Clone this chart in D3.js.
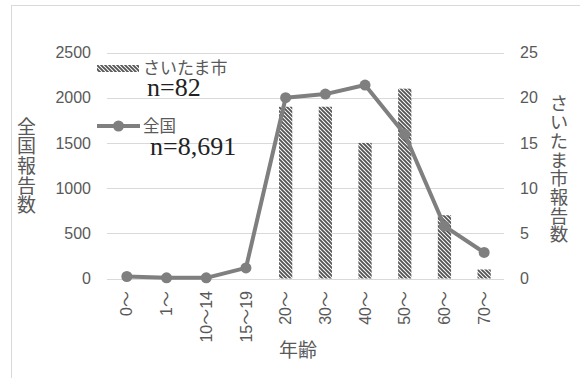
<!DOCTYPE html>
<html>
<head>
<meta charset="utf-8">
<script src="https://cdn.jsdelivr.net/npm/d3@7"></script>
<style>
  html, body { margin: 0; padding: 0; background: #fff; }
  svg { display: block; }
  .vtitle { writing-mode: vertical-rl; text-orientation: upright; }
</style>
</head>
<body>
<svg id="chart" width="580" height="378"></svg>
<script>
// Age groups on the x axis
const categories = ["0～", "1～", "10～14", "15～19", "20～", "30～", "40～", "50～", "60～", "70～"];
// Saitama City reports (bars, right axis)
const saitamaCounts = [0, 0, 0, 0, 19, 19, 15, 21, 7, 1];
// Nationwide reports (line, left axis)
const nationalCounts = [22, 7, 7, 117, 2000, 2040, 2140, 1596, 580, 288];
// Axis ticks
const leftTicks = [0, 500, 1000, 1500, 2000, 2500];
const rightTicks = [0, 5, 10, 15, 20, 25];
// Titles and legend text
const leftTitle = "全国報告数";
const rightTitle = "さいたま市報告数";
const xTitle = "年齢";
const legendBar = "さいたま市";
const legendLine = "全国";
const noteBar = "n=82";
const noteLine = "n=8,691";

const svg = d3.select("#chart");
const sans = "'Liberation Sans', Arial, 'Noto Sans CJK JP', sans-serif";
const cjk = "'Noto Sans CJK JP', sans-serif";
const serif = "'Liberation Serif', 'Times New Roman', serif";
const textColor = "#595959";
const gridColor = "#d9d9d9";
const seriesGray = "#7f7f7f";

// chart frame
svg.append("rect")
  .attr("x", 11.5).attr("y", 5.5)
  .attr("width", 620).attr("height", 420)
  .attr("fill", "#fff").attr("stroke", gridColor).attr("stroke-width", 1);

// diagonal hatch for the bars
const defs = svg.append("defs");
const pat = defs.append("pattern")
  .attr("id", "hatch")
  .attr("patternUnits", "userSpaceOnUse")
  .attr("width", 4).attr("height", 4);
pat.append("rect").attr("width", 4).attr("height", 4).attr("fill", "#fff");
pat.append("path")
  .attr("d", "M-1,-1 L5,5 M-1,3 L1,5 M3,-1 L5,1")
  .attr("stroke", "#555").attr("stroke-width", 1.9);

const x = d3.scaleBand().domain(categories).range([107, 504]).padding(0);
const yL = d3.scaleLinear().domain([0, 2500]).range([278.5, 52.5]);
const yR = d3.scaleLinear().domain([0, 25]).range([278.5, 52.5]);

// horizontal gridlines
svg.append("g").selectAll("line").data(leftTicks).join("line")
  .attr("x1", x.range()[0]).attr("x2", x.range()[1])
  .attr("y1", d => Math.round(yL(d)) + 0.5).attr("y2", d => Math.round(yL(d)) + 0.5)
  .attr("stroke", gridColor).attr("stroke-width", 1);

// left axis labels
svg.append("g").selectAll("text").data(leftTicks).join("text")
  .attr("x", 91).attr("y", d => yL(d)).attr("dy", "0.35em")
  .attr("text-anchor", "end")
  .attr("font-family", sans).attr("font-size", 16).attr("fill", textColor)
  .text(d => d);

// right axis labels
svg.append("g").selectAll("text").data(rightTicks).join("text")
  .attr("x", 520).attr("y", d => yR(d)).attr("dy", "0.35em")
  .attr("text-anchor", "start")
  .attr("font-family", sans).attr("font-size", 16).attr("fill", textColor)
  .text(d => d);

// x axis labels, rotated
svg.append("g").selectAll("text").data(categories).join("text")
  .attr("transform", d => `translate(${x(d) + x.bandwidth() / 2},291) rotate(-90)`)
  .attr("dy", "0.35em")
  .attr("text-anchor", "end")
  .attr("font-family", sans).attr("font-size", 16).attr("fill", textColor)
  .text(d => d);

// bars
const barW = x.bandwidth() / 3;
svg.append("g").selectAll("rect").data(categories).join("rect")
  .attr("x", (d) => x(d) + x.bandwidth() / 2 - barW / 2)
  .attr("width", barW)
  .attr("y", (d, i) => yR(saitamaCounts[i]))
  .attr("height", (d, i) => yR(0) - yR(saitamaCounts[i]))
  .attr("fill", "url(#hatch)");

// line with markers
const pts = categories.map((c, i) => [x(c) + x.bandwidth() / 2, yL(nationalCounts[i])]);
svg.append("path")
  .attr("d", d3.line()(pts))
  .attr("fill", "none").attr("stroke", seriesGray)
  .attr("stroke-width", 4).attr("stroke-linejoin", "round");
svg.append("g").selectAll("circle").data(pts).join("circle")
  .attr("cx", d => d[0]).attr("cy", d => d[1]).attr("r", 5.5)
  .attr("fill", seriesGray);

// vertical axis titles (upright characters, top to bottom)
function verticalTitle(str, cx, cy, size, spacing) {
  svg.append("text")
    .attr("class", "vtitle")
    .attr("x", cx).attr("y", cy)
    .attr("text-anchor", "middle")
    .attr("font-family", cjk).attr("font-size", size)
    .attr("letter-spacing", spacing)
    .attr("fill", textColor)
    .text(str);
}
verticalTitle(leftTitle, 26.5, 166, 19, 0.6);
verticalTitle(rightTitle, 559, 169, 18.5, 0.2);

// x axis title
svg.append("text")
  .attr("x", 298).attr("y", 350).attr("dy", "0.38em")
  .attr("text-anchor", "middle")
  .attr("font-family", cjk).attr("font-size", 19).attr("fill", textColor)
  .text(xTitle);

// legend
svg.append("rect")
  .attr("x", 97).attr("y", 65).attr("width", 42).attr("height", 7)
  .attr("fill", "url(#hatch)");
svg.append("text")
  .attr("x", 143).attr("y", 68).attr("dy", "0.38em")
  .attr("font-family", cjk).attr("font-size", 17).attr("fill", textColor)
  .text(legendBar);
svg.append("line")
  .attr("x1", 97).attr("x2", 140).attr("y1", 126).attr("y2", 126)
  .attr("stroke", seriesGray).attr("stroke-width", 4);
svg.append("circle").attr("cx", 118.5).attr("cy", 126).attr("r", 5.5).attr("fill", seriesGray);
svg.append("text")
  .attr("x", 143).attr("y", 126).attr("dy", "0.38em")
  .attr("font-family", cjk).attr("font-size", 16.5).attr("fill", textColor)
  .text(legendLine);

// sample sizes
svg.append("text")
  .attr("x", 147).attr("y", 95.5)
  .attr("font-family", serif).attr("font-size", 26).attr("fill", "#222")
  .text(noteBar);
svg.append("text")
  .attr("x", 150).attr("y", 155)
  .attr("font-family", serif).attr("font-size", 26).attr("fill", "#222")
  .text(noteLine);
</script>
</body>
</html>
